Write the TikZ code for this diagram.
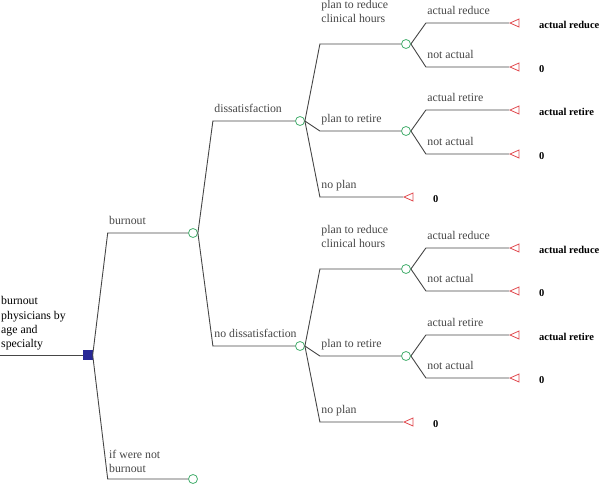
\documentclass[tikz,border=0pt]{standalone}
\usepackage{fontspec}
\setmainfont{Liberation Serif}
\newfontfamily\treefont{Liberation Serif}
\usepackage{xcolor}
\definecolor{chancegreen}{RGB}{70,175,110}
\definecolor{termred}{RGB}{225,75,80}
\definecolor{decblue}{RGB}{40,40,150}
\definecolor{branchgray}{RGB}{70,70,70}
\usepackage{tikz}
\usetikzlibrary{calc,shapes.geometric}

\tikzset{
  chance/.style={circle,draw=chancegreen,fill=white,minimum size=9,inner sep=0,line width=0.8},
  decision/.style={rectangle,draw=decblue,fill=decblue,minimum size=9,inner sep=0},
  terminal/.style={isosceles triangle,shape border rotate=180,isosceles triangle stretches,
    draw=termred,fill=white,minimum width=8,minimum height=9,inner sep=0,line width=0.8,anchor=west},
  edge/.style={branchgray,line width=0.9},
  lbl/.style={anchor=south west,inner sep=0,xshift=1,text depth=0pt,align=left,
    font=\treefont\fontsize{11.8}{14.3}\selectfont},
  payoff/.style={anchor=base west,inner sep=0,font=\treefont\bfseries\fontsize{10.5}{12}\selectfont},
}
% branch from node #2 to node #3, label #4 over the horizontal part
\newcommand{\branch}[4][8]{\draw[edge] (#2.east) -- ($(#2.east |- #3)+(15,0)$) node[lbl,yshift=#1]{#4} -- (#3.west);}

\begin{document}
\begin{tikzpicture}[x=1pt,y=-1pt]
    \useasboundingbox (0,0) rectangle (600,485);
    % root
    \coordinate (start) at (0,355);
    \node[decision] (dec) at (88,355) {};
    \draw[edge] (start) -- (dec.west);
    \node[lbl,yshift=7] (rootlbl) at (start) {burnout\\physicians by\\age and\\specialty};
    % chance nodes
    \node[chance] (burn) at (193,233) {};
    \node[chance] (noburn) at (193,479) {};
    \node[chance] (dis) at (300,121) {};
    \node[chance] (nodis) at (300,346) {};
    \node[chance] (red1) at (406,44) {};
    \node[chance] (ret1) at (406,131) {};
    \node[chance] (red2) at (406,269) {};
    \node[chance] (ret2) at (406,356) {};
    % terminals with payoffs
    \foreach \n/\y/\p in {ar1/23/actual reduce, nr1/67/0, at1/110/actual retire, nt1/154/0,
                          ar2/248/actual reduce, nr2/291/0, at2/335/actual retire, nt2/378/0}{
      \node[terminal] (\n) at (509,\y) {};
      \node[payoff] (\n-pay) at (539,\y+5) {\p};
    }
    \node[terminal] (np1) at (403,197) {};
    \node[payoff] (np1-pay) at (433,202) {0};
    \node[terminal] (np2) at (403,422) {};
    \node[payoff] (np2-pay) at (433,427) {0};
    % branches
    \branch{dec}{burn}{burnout}
    \branch[6]{dec}{noburn}{if were not\\burnout}
    \branch{burn}{dis}{dissatisfaction}
    \branch{burn}{nodis}{no dissatisfaction}
    \branch[21]{dis}{red1}{plan to reduce\\clinical hours}
    \branch{dis}{ret1}{plan to retire}
    \branch{dis}{np1}{no plan}
    \branch[21]{nodis}{red2}{plan to reduce\\clinical hours}
    \branch{nodis}{ret2}{plan to retire}
    \branch{nodis}{np2}{no plan}
    \branch{red1}{ar1}{actual reduce}
    \branch{red1}{nr1}{not actual}
    \branch{ret1}{at1}{actual retire}
    \branch{ret1}{nt1}{not actual}
    \branch{red2}{ar2}{actual reduce}
    \branch{red2}{nr2}{not actual}
    \branch{ret2}{at2}{actual retire}
    \branch{ret2}{nt2}{not actual}
  \end{tikzpicture}
\end{document}
